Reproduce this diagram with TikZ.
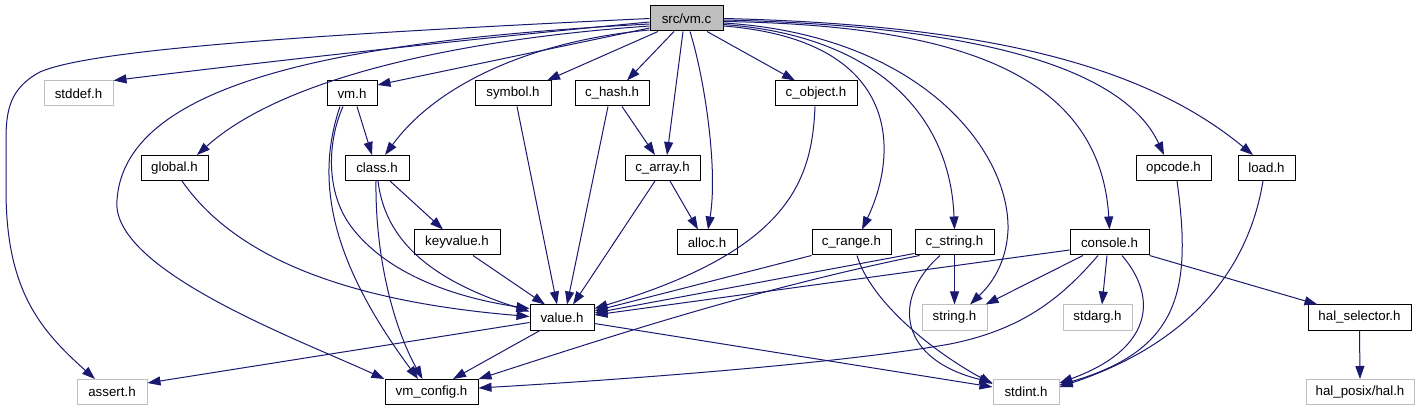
\documentclass[tikz,border=0pt]{standalone}
\usepackage{fontspec}
\setmainfont{Liberation Sans}
\usetikzlibrary{arrows.meta}
\definecolor{edgec}{HTML}{191970}
\definecolor{sysc}{HTML}{BFBFBF}
\begin{document}
\begin{tikzpicture}[x=1pt,y=-1pt,
 box/.style={draw=black, line width=1pt, fill=white, inner sep=0pt, minimum height=25pt, font=\fontsize{13.3}{16}\selectfont, text=black},
 sysbox/.style={box, draw=sysc},
 rootbox/.style={box, fill=sysc},
 e/.style={draw=edgec, line width=1pt, -{Triangle[length=13pt,width=9pt]}}]
\fill[white] (0,0) rectangle (1420,411);
\useasboundingbox (0,0) rectangle (1420,411);
% row 1
\node[rootbox, minimum width=73pt] (vmc) at (686.5,18.5) {src/vm.c};
% row 2
\node[sysbox, minimum width=69pt] (stddef) at (78.5,93.5) {stddef.h};
\node[box, minimum width=50pt] (vmh) at (352,93.5) {vm.h};
\node[box, minimum width=76pt] (symbol) at (513,93.5) {symbol.h};
\node[box, minimum width=74pt] (chash) at (612,93.5) {c\_hash.h};
\node[box, minimum width=82pt] (cobject) at (816,93.5) {c\_object.h};
% row 3
\node[box, minimum width=67pt] (global) at (174.5,168) {global.h};
\node[box, minimum width=64pt] (class) at (377,168) {class.h};
\node[box, minimum width=75pt] (carray) at (662.5,168) {c\_array.h};
\node[box, minimum width=75pt] (opcode) at (1173.5,168) {opcode.h};
\node[box, minimum width=57pt] (load) at (1266.5,168) {load.h};
% row 4
\node[box, minimum width=86pt] (keyvalue) at (457,242.5) {keyvalue.h};
\node[box, minimum width=60pt] (alloc) at (707,242.5) {alloc.h};
\node[box, minimum width=79pt] (crange) at (851.5,242.5) {c\_range.h};
\node[box, minimum width=79pt] (cstring) at (954.5,242.5) {c\_string.h};
\node[box, minimum width=79pt] (console) at (1109.5,242.5) {console.h};
% row 5
\node[box, minimum width=64pt] (value) at (562,317.5) {value.h};
\node[sysbox, minimum width=65pt] (string) at (954.5,317.5) {string.h};
\node[sysbox, minimum width=69pt] (stdarg) at (1097.5,317.5) {stdarg.h};
\node[box, minimum width=103pt] (halsel) at (1359.5,317.5) {hal\_selector.h};
% row 6
\node[sysbox, minimum width=70pt] (assert) at (112,392) {assert.h};
\node[box, minimum width=93pt] (vmconfig) at (431.5,392) {vm\_config.h};
\node[sysbox, minimum width=66pt] (stdint) at (1026,392) {stdint.h};
\node[sysbox, minimum width=108pt] (halposix) at (1360,392) {hal\_posix/hal.h};

% edges from src/vm.c (left side)
\draw[e] (vmc.west) .. controls (300,35) and (90,50) .. (40,72) .. controls (10,88) and (6,110) .. (6,140) -- (6,190) .. controls (6,290) and (40,330) .. ([xshift=-17pt]assert.north);
\draw[e] ([yshift=-3.5pt]vmc.west) .. controls (480,38) and (280,60) .. (stddef.north east);
\draw[e] ([yshift=-5.5pt]vmc.west) .. controls (350,40) and (125,80) .. (117,200) .. controls (110,270) and (300,340) .. (vmconfig.north west);
\draw[e] ([yshift=-7.5pt]vmc.west) .. controls (450,40) and (280,80) .. ([xshift=22.5pt]global.north);
\draw[e] ([yshift=-9.5pt]vmc.west) -- ([yshift=8.5pt]vmh.east);
\draw[e] ([yshift=-11.5pt]vmc.west) .. controls (540,40) and (440,80) .. ([xshift=8pt]class.north);
% bottom
\draw[e] ([xshift=-28.5pt]vmc.south) -- ([xshift=34pt]symbol.north);
\draw[e] ([xshift=-12.5pt]vmc.south) -- ([xshift=15pt]chash.north);
\draw[e] ([xshift=-3.5pt]vmc.south) -- ([xshift=4.5pt]carray.north);
\draw[e] ([xshift=3.5pt]vmc.south) .. controls (705,80) and (718,170) .. ([xshift=1pt]alloc.north);
\draw[e] ([xshift=20.5pt]vmc.south) -- ([xshift=-21pt]cobject.north);
% right side
\draw[e] (vmc.east) .. controls (1000,25) and (1150,70) .. ([xshift=-13.5pt]load.north);
\draw[e] ([yshift=-1.5pt]vmc.east) .. controls (950,25) and (1120,60) .. ([xshift=-9.5pt]opcode.north);
\draw[e] ([yshift=-3pt]vmc.east) .. controls (950,25) and (1100,70) .. (console.north);
\draw[e] ([yshift=-4.5pt]vmc.east) .. controls (920,35) and (1010,150) .. (1008,230) .. controls (1006,270) and (985,290) .. ([xshift=15.5pt]string.north);
\draw[e] ([yshift=-6pt]vmc.east) .. controls (870,35) and (950,110) .. (cstring.north);
\draw[e] ([yshift=-7.5pt]vmc.east) .. controls (900,40) and (900,150) .. ([xshift=10.5pt]crange.north);

% vm.h
\draw[e] ([xshift=5pt]vmh.south) -- ([xshift=-5pt]class.north);
\draw[e] ([xshift=-9pt]vmh.south) .. controls (328,140) and (325,190) .. (350,225) .. controls (390,280) and (470,300) .. ([yshift=9pt]value.west);
\draw[e] ([xshift=-12pt]vmh.south) .. controls (315,180) and (330,260) .. ([xshift=-13.5pt]vmconfig.north);
% class.h
\draw[e] ([xshift=13pt]class.south) -- ([xshift=-14pt]keyvalue.north);
\draw[e] ([xshift=1pt]class.south) .. controls (385,240) and (430,280) .. ([yshift=6pt]value.west);
\draw[e] ([xshift=-1pt]class.south) .. controls (375,260) and (395,330) .. ([xshift=-9pt]vmconfig.north);
% global.h
\draw[e] ([xshift=7.5pt]global.south) .. controls (230,250) and (330,300) .. ([yshift=1pt]value.west);
% symbol, c_hash, c_array, keyvalue
\draw[e] ([xshift=4pt]symbol.south) -- ([xshift=-5pt]value.north);
\draw[e] ([xshift=-4pt]chash.south) -- ([xshift=5pt]value.north);
\draw[e] ([xshift=10pt]chash.south) -- ([xshift=-7.5pt]carray.north);
\draw[e] ([xshift=-7.5pt]carray.south) -- ([xshift=11pt]value.north);
\draw[e] ([xshift=7.5pt]carray.south) -- ([xshift=-9pt]alloc.north);
\draw[e] ([xshift=16pt]keyvalue.south) -- ([xshift=-17pt]value.north);
% c_object
\draw[e] ([xshift=-1pt]cobject.south) .. controls (812,180) and (790,250) .. ([yshift=9pt]value.east);
% c_range
\draw[e] (crange.south west) -- ([yshift=6.5pt]value.east);
\draw[e] ([xshift=5.5pt]crange.south) .. controls (870,300) and (930,350) .. ([yshift=8pt]stdint.west);
% c_string
\draw[e] ([yshift=2pt]cstring.south west) -- ([yshift=4.5pt]value.east);
\draw[e] ([xshift=5pt]cstring.south west) .. controls (750,290) and (600,340) .. (vmconfig.north east);
\draw[e] (cstring.south) -- (string.north);
\draw[e] ([xshift=-14.5pt]cstring.south) .. controls (890,300) and (900,360) .. ([yshift=9.5pt]stdint.west);
% console
\draw[e] ([yshift=-7.5pt]console.west) -- ([yshift=2.5pt]value.east);
\draw[e] ([xshift=-26.5pt]console.south) -- ([xshift=-2pt]string.north east);
\draw[e] ([xshift=-11.5pt]console.south) .. controls (1060,300) and (1020,330) .. (950,344) .. controls (850,362) and (650,378) .. ([yshift=4pt]vmconfig.east);
\draw[e] ([xshift=-2.5pt]console.south) -- ([xshift=4.5pt]stdarg.north);
\draw[e] ([xshift=12.5pt]console.south) .. controls (1160,300) and (1150,350) .. ([yshift=9pt]stdint.east);
\draw[e] (console.south east) -- ([xshift=10pt]halsel.north west);
% opcode, load
\draw[e] ([xshift=3.5pt]opcode.south) .. controls (1192,290) and (1180,350) .. ([yshift=7pt]stdint.east);
\draw[e] ([xshift=-3.5pt]load.south) .. controls (1250,260) and (1200,340) .. ([yshift=5pt]stdint.east);
% value.h
\draw[e] ([yshift=-5pt]value.west) -- ([yshift=9pt]assert.east);
\draw[e] ([xshift=-22pt]value.south) -- ([xshift=21.5pt]vmconfig.north);
\draw[e] ([yshift=-6pt]value.east) -- ([yshift=5pt]stdint.west);
% hal_selector
\draw[e] (halsel.south) -- (halposix.north);
\end{tikzpicture}
\end{document}
